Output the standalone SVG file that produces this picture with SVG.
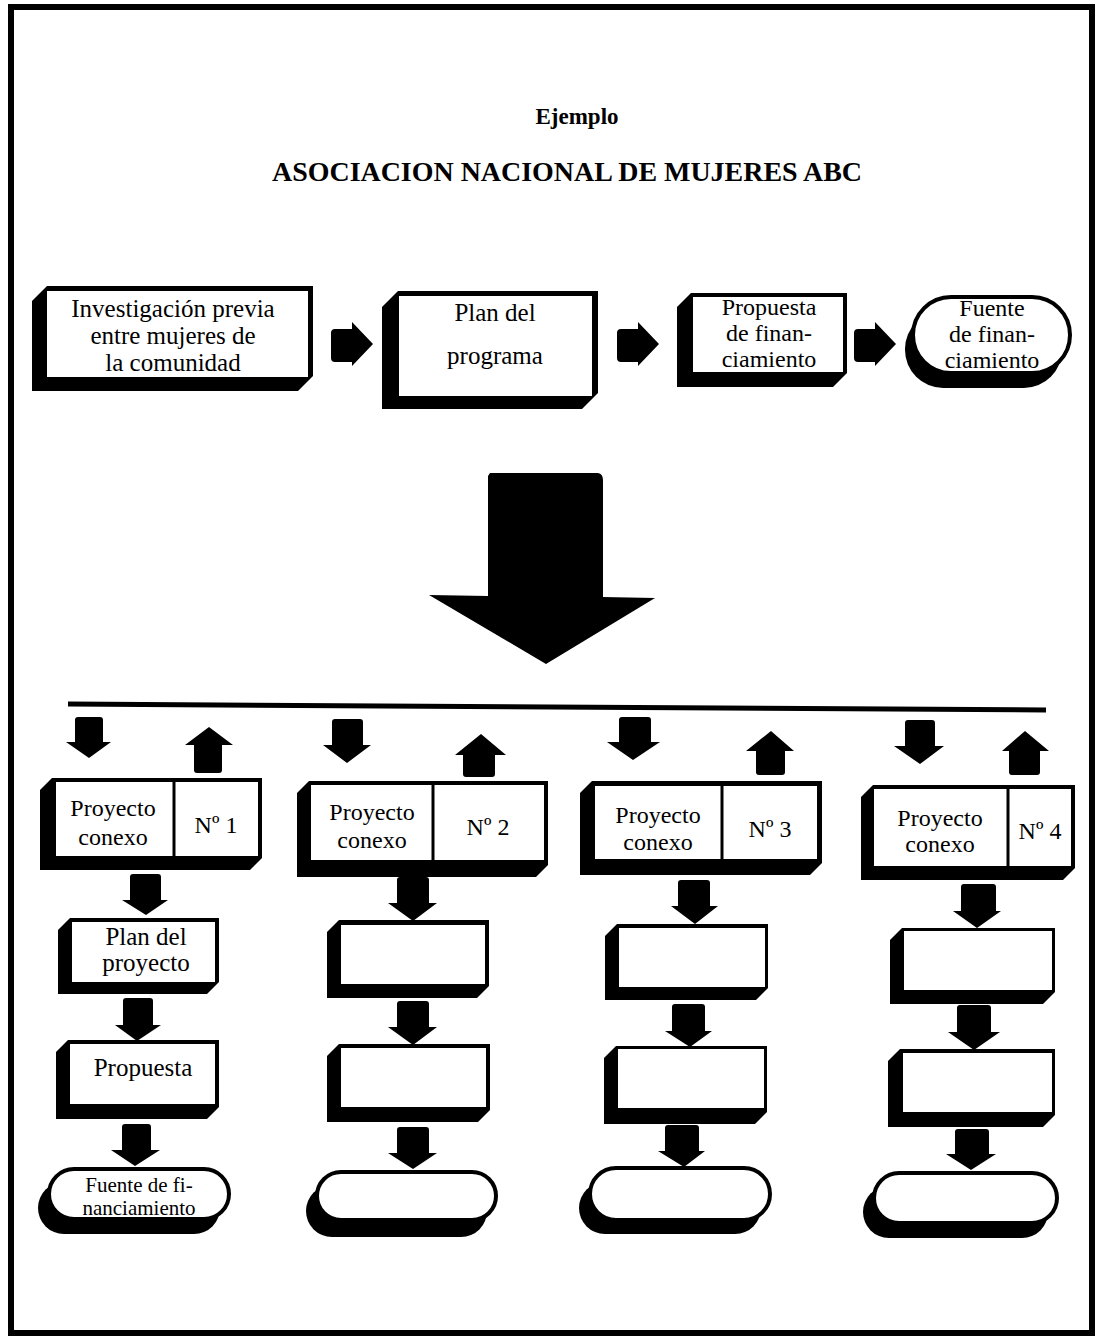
<svg xmlns="http://www.w3.org/2000/svg" width="1100" height="1336" viewBox="0 0 1100 1336">
<style>
.blk{fill:#000}
.face{fill:#fff}
.ov{fill:#fff;stroke:#000;stroke-width:4}
.div{stroke:#000;stroke-width:3}
.t{font-family:"Liberation Serif","Times New Roman",serif;font-size:25px;text-anchor:middle;fill:#000}
.m{font-size:24px}
.s{font-size:24px}
.f{font-size:21px}
.h{font-family:"Liberation Serif","Times New Roman",serif;font-weight:bold;text-anchor:middle;fill:#000}
</style>
<rect x="0" y="0" width="1100" height="1336" fill="#fff"/>
<rect x="11" y="7" width="1081" height="1326" fill="none" stroke="#000" stroke-width="6"/>

<g id="title">
<text class="h" x="577" y="124" font-size="23">Ejemplo</text>
<text class="h" x="567" y="181" font-size="28" textLength="590" lengthAdjust="spacingAndGlyphs">ASOCIACION NACIONAL DE MUJERES ABC</text>
</g>

<g id="n-investigacion">
<polygon class="blk" points="32,301 47,286 313,286 313,376 298,391 32,391"/>
<rect class="face" x="47" y="291" width="261" height="86"/>
<text class="t" x="173" y="317">Investigación previa</text>
<text class="t" x="173" y="344">entre mujeres de</text>
<text class="t" x="173" y="371">la comunidad</text>
</g>

<g id="n-plan-programa">
<polygon class="blk" points="382,307 398,291 598,291 598,393 582,409 382,409"/>
<rect class="face" x="399" y="296" width="193" height="100"/>
<text class="t" x="495" y="321">Plan del</text>
<text class="t" x="495" y="364">programa</text>
</g>

<g id="n-propuesta-fin">
<polygon class="blk" points="677,307 691,293 847,293 847,373 833,387 677,387"/>
<rect class="face" x="693" y="297" width="150" height="75"/>
<text class="t m" x="769" y="315">Propuesta</text>
<text class="t m" x="769" y="341">de finan-</text>
<text class="t m" x="769" y="367">ciamiento</text>
</g>

<g id="n-fuente-fin">
<rect class="blk" x="905" y="311" width="157" height="77" rx="38"/>
<rect class="ov" x="913" y="297" width="157" height="76" rx="38"/>
<text class="t m" x="992" y="316">Fuente</text>
<text class="t m" x="992" y="342">de finan-</text>
<text class="t m" x="992" y="368">ciamiento</text>
</g>

<g id="n-proyecto1">
<polygon class="blk" points="40,790 52,778 262,778 262,858 250,870 40,870"/>
<rect class="face" x="56" y="782" width="202" height="74"/>
<line class="div" x1="174" y1="782" x2="174" y2="856"/>
<text class="t s" x="113" y="816">Proyecto</text>
<text class="t s" x="113" y="845">conexo</text>
<text class="t s" x="216" y="833">Nº 1</text>
</g>

<g id="n-proyecto2">
<polygon class="blk" points="297,793 309,781 548,781 548,865 536,877 297,877"/>
<rect class="face" x="311" y="785" width="233" height="75"/>
<line class="div" x1="433" y1="785" x2="433" y2="860"/>
<text class="t s" x="372" y="820">Proyecto</text>
<text class="t s" x="372" y="848">conexo</text>
<text class="t s" x="488" y="835">Nº 2</text>
</g>

<g id="n-proyecto3">
<polygon class="blk" points="580,793 592,781 822,781 822,863 810,875 580,875"/>
<rect class="face" x="595" y="786" width="222" height="73"/>
<line class="div" x1="722" y1="786" x2="722" y2="859"/>
<text class="t s" x="658" y="823">Proyecto</text>
<text class="t s" x="658" y="850">conexo</text>
<text class="t s" x="770" y="837">Nº 3</text>
</g>

<g id="n-proyecto4">
<polygon class="blk" points="861,797 873,785 1075,785 1075,868 1063,880 861,880"/>
<rect class="face" x="874" y="789" width="197" height="77"/>
<line class="div" x1="1008" y1="789" x2="1008" y2="866"/>
<text class="t s" x="940" y="826">Proyecto</text>
<text class="t s" x="940" y="852">conexo</text>
<text class="t s" x="1040" y="839">Nº 4</text>
</g>

<g id="n-c1-plan">
<polygon class="blk" points="58,930 70,918 219,918 219,982 207,994 58,994"/>
<rect class="face" x="72" y="922" width="143" height="60"/>
<text class="t" x="146" y="945">Plan del</text>
<text class="t" x="146" y="971">proyecto</text>
</g>
<g id="n-c1-propuesta">
<polygon class="blk" points="56,1052 68,1040 219,1040 219,1107 207,1119 56,1119"/>
<rect class="face" x="70" y="1044" width="145" height="60"/>
<text class="t" x="143" y="1076">Propuesta</text>
</g>
<g id="n-c1-fuente">
<rect class="blk" x="38" y="1182" width="182" height="52" rx="26"/>
<rect class="ov" x="49" y="1169" width="180" height="50" rx="25"/>
<text class="t f" x="139" y="1192">Fuente de fi-</text>
<text class="t f" x="139" y="1215">nanciamiento</text>
</g>

<g id="n-c2-a">
<polygon class="blk" points="327,932 339,920 489,920 489,986 477,998 327,998"/>
<rect class="face" x="341" y="925" width="144" height="59"/>
</g>
<g id="n-c2-b">
<polygon class="blk" points="327,1056 339,1044 490,1044 490,1110 478,1122 327,1122"/>
<rect class="face" x="341" y="1048" width="145" height="59"/>
</g>
<g id="n-c2-c">
<rect class="blk" x="306" y="1185" width="181" height="52" rx="26"/>
<rect class="ov" x="317" y="1172" width="179" height="48" rx="24"/>
</g>

<g id="n-c3-a">
<polygon class="blk" points="605,936 617,924 768,924 768,988 756,1000 605,1000"/>
<rect class="face" x="619" y="928" width="146" height="59"/>
</g>
<g id="n-c3-b">
<polygon class="blk" points="604,1058 616,1046 767,1046 767,1112 755,1124 604,1124"/>
<rect class="face" x="618" y="1049" width="146" height="59"/>
</g>
<g id="n-c3-c">
<rect class="blk" x="579" y="1182" width="182" height="52" rx="26"/>
<rect class="ov" x="590" y="1168" width="180" height="52" rx="26"/>
</g>

<g id="n-c4-a">
<polygon class="blk" points="890,940 902,928 1055,928 1055,992 1043,1004 890,1004"/>
<rect class="face" x="904" y="931" width="148" height="59"/>
</g>
<g id="n-c4-b">
<polygon class="blk" points="888,1061 900,1049 1055,1049 1055,1115 1043,1127 888,1127"/>
<rect class="face" x="903" y="1053" width="149" height="59"/>
</g>
<g id="n-c4-c">
<rect class="blk" x="863" y="1186" width="185" height="52" rx="26"/>
<rect class="ov" x="874" y="1173" width="183" height="50" rx="25"/>
</g>

<g id="connectors" class="blk">
<path d="M335,329 L352,329 L352,322 L373,344 L352,366 L352,362 L335,362 Q331,362 331,358 L331,333 Q331,329 335,329 Z"/>
<path d="M335,329 L352,329 L352,322 L373,344 L352,366 L352,362 L335,362 Q331,362 331,358 L331,333 Q331,329 335,329 Z" transform="translate(286,0)"/>
<path d="M335,329 L352,329 L352,322 L373,344 L352,366 L352,362 L335,362 Q331,362 331,358 L331,333 Q331,329 335,329 Z" transform="translate(523,0)"/>
<path d="M490,473 L598,473 Q603,474 603,480 L603,597 L655,598 L546,664 L429,595 L488,596 L488,476 Z"/>
<line x1="68" y1="704" x2="1046" y2="710" stroke="#000" stroke-width="5"/>

<path d="M75,720 Q75,717 78,717 L100,717 Q103,717 103,720 L103,742 L111,742 L89,758 L66,742 L75,742 Z"/>
<path d="M209,727 L233,745 L222,745 L222,770 Q222,773 219,773 L197,773 Q194,773 194,770 L194,745 L185,745 Z"/>
<path d="M332,722 Q332,719 335,719 L360,719 Q363,719 363,722 L363,745 L371,745 L347,763 L323,745 L332,745 Z"/>
<path d="M481,734 L506,755 L495,755 L495,774 Q495,777 492,777 L466,777 Q463,777 463,774 L463,755 L455,755 Z"/>
<path d="M619,720 Q619,717 622,717 L648,717 Q651,717 651,720 L651,742 L660,742 L633,760 L607,742 L619,742 Z"/>
<path d="M771,731 L794,751 L785,751 L785,772 Q785,775 782,775 L759,775 Q756,775 756,772 L756,751 L746,751 Z"/>
<path d="M905,723 Q905,720 908,720 L932,720 Q935,720 935,723 L935,746 L944,746 L920,764 L894,746 L905,746 Z"/>
<path d="M1025,731 L1049,751 L1040,751 L1040,772 Q1040,775 1037,775 L1012,775 Q1009,775 1009,772 L1009,751 L1002,751 Z"/>

<path d="M130,877 Q130,874 133,874 L158,874 Q161,874 161,877 L161,900 L168,900 L146,915 L122,900 L130,900 Z"/>
<path d="M123,1001 Q123,998 126,998 L150,998 Q153,998 153,1001 L153,1025 L161,1025 L137,1041 L115,1025 L123,1025 Z"/>
<path d="M122,1127 Q122,1124 125,1124 L148,1124 Q151,1124 151,1127 L151,1150 L160,1150 L135,1166 L111,1150 L122,1150 Z"/>

<path d="M397,880 Q397,877 400,877 L426,877 Q429,877 429,880 L429,903 L437,903 L413,921 L388,903 L397,903 Z"/>
<path d="M397,1004 Q397,1001 400,1001 L426,1001 Q429,1001 429,1004 L429,1027 L437,1027 L413,1045 L388,1027 L397,1027 Z"/>
<path d="M397,1130 Q397,1127 400,1127 L426,1127 Q429,1127 429,1130 L429,1153 L437,1153 L413,1169 L388,1153 L397,1153 Z"/>

<path d="M678,883 Q678,880 681,880 L707,880 Q710,880 710,883 L710,906 L718,906 L695,924 L671,906 L678,906 Z"/>
<path d="M672,1007 Q672,1004 675,1004 L702,1004 Q705,1004 705,1007 L705,1031 L712,1031 L690,1047 L665,1031 L672,1031 Z"/>
<path d="M665,1128 Q665,1125 668,1125 L696,1125 Q699,1125 699,1128 L699,1151 L705,1151 L684,1167 L658,1151 L665,1151 Z"/>

<path d="M961,887 Q961,884 964,884 L993,884 Q996,884 996,887 L996,911 L1001,911 L977,928 L953,911 L961,911 Z"/>
<path d="M957,1008 Q957,1005 960,1005 L988,1005 Q991,1005 991,1008 L991,1032 L1000,1032 L974,1050 L948,1032 L957,1032 Z"/>
<path d="M955,1132 Q955,1129 958,1129 L986,1129 Q989,1129 989,1132 L989,1154 L996,1154 L971,1170 L946,1154 L955,1154 Z"/>
</g>
</svg>
